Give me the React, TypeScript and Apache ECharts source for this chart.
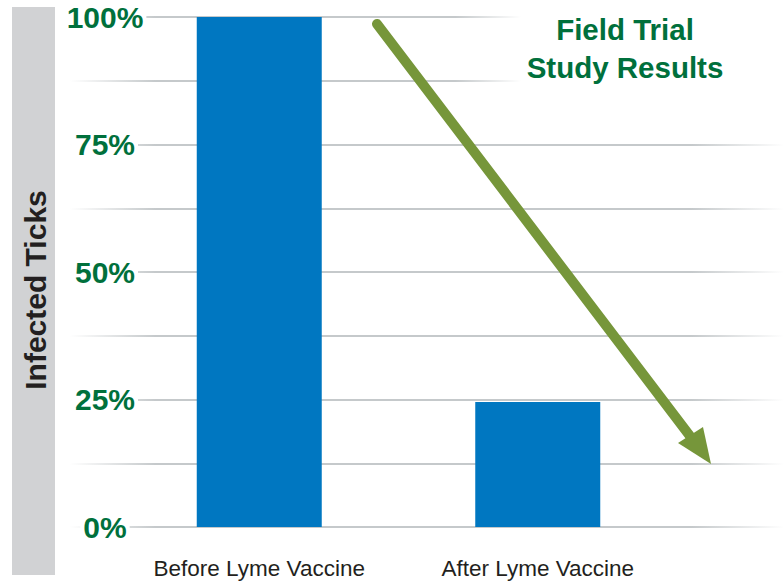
import React, { useEffect, useRef } from "react";
import * as echarts from "echarts";

const categories = ["Before Lyme Vaccine", "After Lyme Vaccine"];
const infectedPct = [100, 24.5];
const yTicks = [0, 25, 50, 75, 100];
const titleLines = ["Field Trial", "Study Results"];
const yAxisTitle = "Infected Ticks";

const FONT = "'Liberation Sans', Arial, Helvetica, sans-serif";
const GREEN = "#00703c";

export default function App() {
  const ref = useRef<HTMLDivElement>(null);
  useEffect(() => {
    document.body.style.margin = "0";
    if (!ref.current) return;
    const chart = echarts.init(ref.current, null, { renderer: "svg" });
    const gridGrad = new echarts.graphic.LinearGradient(
      70,
      0,
      784,
      0,
      [
        { offset: 0, color: "rgba(197,201,203,0)" },
        { offset: 0.12, color: "#c5c9cb" },
        { offset: 0.87, color: "#c5c9cb" },
        { offset: 1, color: "rgba(197,201,203,0)" },
      ],
      true
    );
    const option: any = {
      animation: false,
      backgroundColor: "#ffffff",
      grid: [
        { left: 70, right: 0, top: 17, bottom: 55 },
        { left: 120, right: 107, top: 17, bottom: 55 },
      ],
      xAxis: [
        { type: "value", gridIndex: 0, show: false, min: 0, max: 1 },
        {
          type: "category",
          gridIndex: 1,
          data: categories,
          axisLine: { show: false },
          axisTick: { show: false },
          axisLabel: {
            color: "#231f20",
            fontSize: 22.5,
            fontFamily: FONT,
            margin: 30,
          },
        },
      ],
      yAxis: [
        {
          type: "value",
          gridIndex: 0,
          min: 0,
          max: 100,
          interval: 12.5,
          axisLine: { show: false },
          axisTick: { show: false },
          splitLine: { show: true, lineStyle: { color: gridGrad, width: 2 } },
          axisLabel: {
            margin: -35,
            align: "center",
            formatter: (v: number) =>
              yTicks.indexOf(Math.round(v * 100) / 100) >= 0 ? `{a|${v}%}` : "",
            rich: {
              a: {
                color: GREEN,
                fontSize: 30,
                fontWeight: "bold",
                fontFamily: FONT,
                backgroundColor: "#ffffff",
                padding: [0, 3, 0, 3],
              },
            },
          },
        },
        { type: "value", gridIndex: 1, min: 0, max: 100, show: false },
      ],
      series: [
        {
          type: "bar",
          xAxisIndex: 1,
          yAxisIndex: 1,
          data: infectedPct,
          barWidth: 125,
          itemStyle: { color: "#0077c1" },
          z: 3,
        },
      ],
      graphic: [
        {
          type: "rect",
          left: 12,
          top: 7,
          shape: { x: 0, y: 0, width: 43, height: 568 },
          style: { fill: "#d1d2d4" },
          z: 0,
        },
        {
          type: "text",
          x: 35,
          y: 290,
          rotation: Math.PI / 2,
          style: {
            text: yAxisTitle,
            fill: "#231f20",
            font: `bold 30px ${FONT}`,
            textAlign: "center",
            textVerticalAlign: "middle",
          },
          z: 5,
        },
        {
          type: "rect",
          shape: { x: 455, y: 4, width: 329, height: 100 },
          style: {
            fill: new echarts.graphic.LinearGradient(
              455,
              0,
              784,
              0,
              [
                { offset: 0, color: "rgba(255,255,255,0)" },
                { offset: 0.2, color: "rgba(255,255,255,1)" },
                { offset: 1, color: "rgba(255,255,255,1)" },
              ],
              true
            ),
          },
          z: 5,
        },
        {
          type: "text",
          x: 625,
          y: 10,
          style: {
            text: titleLines.join("\n"),
            fill: GREEN,
            font: `bold 29.5px ${FONT}`,
            lineHeight: 38,
            textAlign: "center",
            textVerticalAlign: "top",
          },
          z: 6,
        },
        {
          type: "line",
          shape: { x1: 377, y1: 24, x2: 693, y2: 440 },
          style: { stroke: "#76963a", lineWidth: 10, lineCap: "round" },
          z: 7,
        },
        {
          type: "polygon",
          shape: { points: [[711, 464], [678, 443], [703, 427]] },
          style: { fill: "#76963a" },
          z: 7,
        },
      ],
    };
    chart.setOption(option);
    return () => chart.dispose();
  }, []);
  return <div ref={ref} style={{ width: 784, height: 582 }} />;
}
